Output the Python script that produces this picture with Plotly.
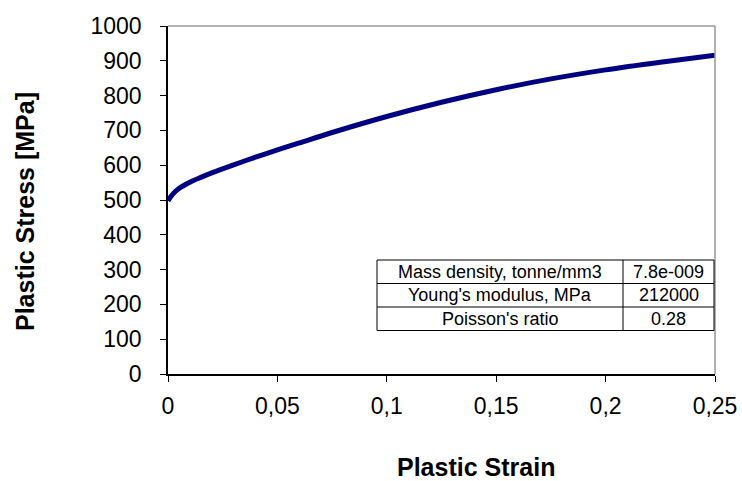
import plotly.graph_objects as go

strain = [0.0, 0.0025, 0.005, 0.01, 0.015, 0.02, 0.03, 0.04, 0.05, 0.06, 0.075, 0.1, 0.125, 0.15, 0.175, 0.2, 0.225, 0.25]
stress = [498, 519, 533, 551, 565, 578, 601, 623, 644, 664, 694, 740, 781, 817, 848, 874, 896, 916]

props = ["Mass density, tonne/mm3", "Young's modulus, MPa", "Poisson's ratio"]
vals = ["7.8e-009", "212000", "0.28"]

x_title = "Plastic Strain"
y_title = "Plastic Stress [MPa]"

fig = go.Figure()
fig.add_trace(go.Scatter(x=strain, y=stress, mode="lines",
                         line=dict(color="#000080", width=5, shape="spline", smoothing=0.8), showlegend=False))

font = "Liberation Sans, Arial, sans-serif"
# plot area at 168..715 x 26..374 (page body margin removed by post_script)
fig.update_layout(
    width=742, height=481,
    margin=dict(l=168, r=27, t=26, b=107),
    paper_bgcolor="white", plot_bgcolor="white",
    separators=",.",
    font=dict(family=font, size=23, color="black"),
    xaxis=dict(range=[0, 0.25], dtick=0.05, tick0=0, ticks="outside", ticklen=6, tickcolor="black",
               showline=True, linecolor="black", linewidth=1.5, showgrid=False, zeroline=False,
               tickfont=dict(size=23), automargin=False, ticklabelstandoff=5),
    yaxis=dict(range=[0, 1000], dtick=100, ticks="outside", ticklen=6, tickcolor="black",
               showline=True, linecolor="black", linewidth=1.5, showgrid=False, zeroline=False,
               tickfont=dict(size=23), automargin=False, ticklabelstandoff=14),
)

pw, ph = 547.0, 348.0
def xp(px):
    return (px - 168) / pw
def yp(py):
    return (374 - py) / ph

# axis titles
fig.add_annotation(x=xp(476), y=yp(467), xref="paper", yref="paper", text="<b>" + x_title + "</b>",
                   showarrow=False, font=dict(size=25, family=font), xanchor="center", yanchor="middle")
fig.add_annotation(x=xp(25), y=yp(212), xref="paper", yref="paper", text="<b>" + y_title + "</b>",
                   showarrow=False, font=dict(size=25, family=font), xanchor="center", yanchor="middle", textangle=-90)

# gray top/right border
fig.add_shape(type="line", xref="paper", yref="paper", x0=0, x1=1, y0=1, y1=1, line=dict(color="#999999", width=1.5))
fig.add_shape(type="line", xref="paper", yref="paper", x0=1, x1=1, y0=0, y1=1, line=dict(color="#999999", width=1.5))

# property table
tx0, tx1, tdiv = xp(377), xp(714), xp(623)
row_top = 260
row_h = 23.5
fig.add_shape(type="rect", xref="paper", yref="paper", x0=tx0, x1=tx1, y0=yp(row_top + 3 * row_h), y1=yp(row_top),
              line=dict(color="black", width=1), fillcolor="white")
for i in range(1, 3):
    fig.add_shape(type="line", xref="paper", yref="paper", x0=tx0, x1=tx1, y0=yp(row_top + i * row_h), y1=yp(row_top + i * row_h),
                  line=dict(color="black", width=1))
fig.add_shape(type="line", xref="paper", yref="paper", x0=tdiv, x1=tdiv, y0=yp(row_top + 3 * row_h), y1=yp(row_top),
              line=dict(color="black", width=1))
for i, (p, v) in enumerate(zip(props, vals)):
    yc = yp(row_top + (i + 0.5) * row_h)
    fig.add_annotation(x=(tx0 + tdiv) / 2, y=yc, xref="paper", yref="paper", text=p, showarrow=False,
                       font=dict(size=18, family=font), xanchor="center", yanchor="middle")
    fig.add_annotation(x=(tdiv + tx1) / 2, y=yc, xref="paper", yref="paper", text=v, showarrow=False,
                       font=dict(size=18, family=font), xanchor="center", yanchor="middle")

fig.write_html("out.html", config={"displayModeBar": False},
               post_script="document.body.style.margin='0';document.body.style.overflow='hidden';")
